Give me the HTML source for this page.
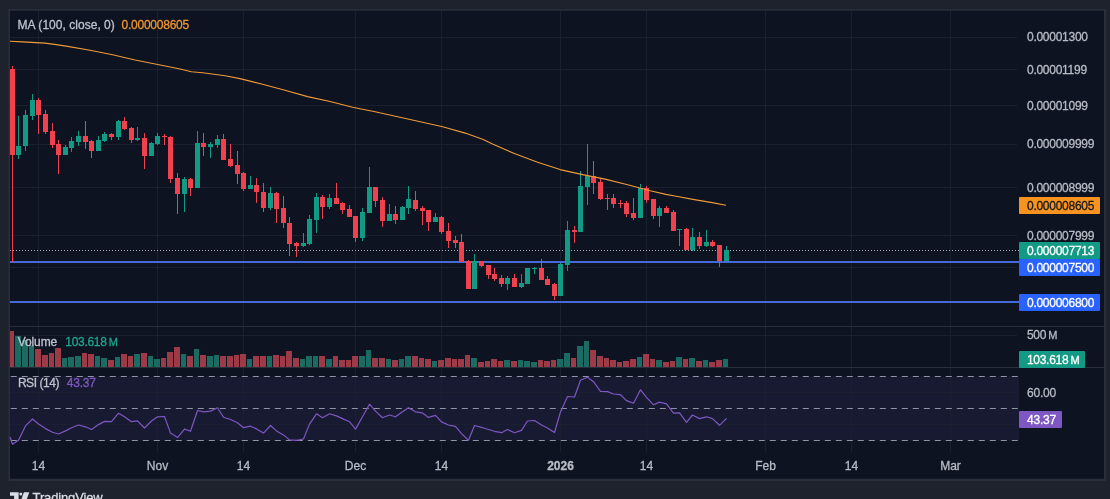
<!DOCTYPE html>
<html><head><meta charset="utf-8"><title>Chart</title>
<style>html,body{margin:0;padding:0;background:#1e222d;}body{width:1110px;height:499px;overflow:hidden;font-family:"Liberation Sans",Arial,sans-serif;}svg{display:block;will-change:transform;transform:translateZ(0)}</style>
</head><body>
<svg width="1110" height="499" viewBox="0 0 1110 499" font-family="'Liberation Sans', Arial, sans-serif" font-size="12">
<rect width="1110" height="499" fill="#1e222d"/>
<rect x="8.5" y="8.9" width="1097.8" height="472.1" fill="#2a2e39"/>
<rect x="10" y="10.7" width="1094" height="468.1" fill="#0d1321"/>
<rect x="10" y="376.5" width="1009" height="64.0" fill="#7e57c2" fill-opacity="0.10"/>
<g fill="#1a2030" shape-rendering="crispEdges">
<rect x="38" y="11" width="1" height="441"/>
<rect x="157" y="11" width="1" height="441"/>
<rect x="243" y="11" width="1" height="441"/>
<rect x="355" y="11" width="1" height="441"/>
<rect x="441" y="11" width="1" height="441"/>
<rect x="560" y="11" width="1" height="441"/>
<rect x="646" y="11" width="1" height="441"/>
<rect x="765" y="11" width="1" height="441"/>
<rect x="851" y="11" width="1" height="441"/>
<rect x="950" y="11" width="1" height="441"/>
<rect x="10" y="37" width="1007" height="1"/>
<rect x="10" y="69" width="1007" height="1"/>
<rect x="10" y="105" width="1007" height="1"/>
<rect x="10" y="144" width="1007" height="1"/>
<rect x="10" y="187" width="1007" height="1"/>
<rect x="10" y="235" width="1007" height="1"/>
<rect x="10" y="267" width="1007" height="1"/>
<rect x="10" y="335" width="1007" height="1"/>
<rect x="10" y="392" width="1007" height="1"/>
<rect x="10" y="424" width="1007" height="1"/>
</g>
<g fill="#2a2e39" shape-rendering="crispEdges">
<rect x="10" y="326" width="1094" height="1"/>
<rect x="10" y="367" width="1094" height="1"/>
</g>
<g shape-rendering="crispEdges">
<rect x="10" y="331" width="4" height="36" fill="#9c3b47"/>
<rect x="15" y="336" width="6" height="31" fill="#1b6b62"/>
<rect x="22" y="340" width="6" height="27" fill="#1b6b62"/>
<rect x="29" y="345" width="5" height="22" fill="#1b6b62"/>
<rect x="35" y="349" width="6" height="18" fill="#9c3b47"/>
<rect x="42" y="355" width="6" height="12" fill="#9c3b47"/>
<rect x="49" y="353" width="5" height="14" fill="#9c3b47"/>
<rect x="55" y="348" width="6" height="19" fill="#9c3b47"/>
<rect x="62" y="358" width="5" height="9" fill="#1b6b62"/>
<rect x="68" y="357" width="6" height="10" fill="#1b6b62"/>
<rect x="75" y="356" width="6" height="11" fill="#1b6b62"/>
<rect x="82" y="353" width="5" height="14" fill="#9c3b47"/>
<rect x="88" y="354" width="6" height="13" fill="#9c3b47"/>
<rect x="95" y="356" width="5" height="11" fill="#1b6b62"/>
<rect x="101" y="358" width="6" height="9" fill="#1b6b62"/>
<rect x="108" y="360" width="6" height="7" fill="#9c3b47"/>
<rect x="115" y="357" width="5" height="10" fill="#1b6b62"/>
<rect x="121" y="354" width="6" height="13" fill="#9c3b47"/>
<rect x="128" y="356" width="5" height="11" fill="#9c3b47"/>
<rect x="134" y="354" width="6" height="13" fill="#1b6b62"/>
<rect x="141" y="353" width="6" height="14" fill="#9c3b47"/>
<rect x="148" y="356" width="5" height="11" fill="#1b6b62"/>
<rect x="154" y="359" width="6" height="8" fill="#1b6b62"/>
<rect x="161" y="358" width="5" height="9" fill="#9c3b47"/>
<rect x="167" y="352" width="6" height="15" fill="#9c3b47"/>
<rect x="174" y="347" width="6" height="20" fill="#9c3b47"/>
<rect x="181" y="354" width="5" height="13" fill="#1b6b62"/>
<rect x="187" y="356" width="6" height="11" fill="#9c3b47"/>
<rect x="194" y="349" width="5" height="18" fill="#1b6b62"/>
<rect x="200" y="355" width="6" height="12" fill="#9c3b47"/>
<rect x="207" y="356" width="6" height="11" fill="#1b6b62"/>
<rect x="214" y="355" width="5" height="12" fill="#1b6b62"/>
<rect x="220" y="356" width="6" height="11" fill="#9c3b47"/>
<rect x="227" y="356" width="6" height="11" fill="#9c3b47"/>
<rect x="234" y="355" width="5" height="12" fill="#9c3b47"/>
<rect x="240" y="354" width="6" height="13" fill="#9c3b47"/>
<rect x="247" y="359" width="5" height="8" fill="#1b6b62"/>
<rect x="253" y="356" width="6" height="11" fill="#9c3b47"/>
<rect x="260" y="356" width="6" height="11" fill="#9c3b47"/>
<rect x="267" y="356" width="5" height="11" fill="#1b6b62"/>
<rect x="273" y="355" width="6" height="12" fill="#9c3b47"/>
<rect x="280" y="356" width="5" height="11" fill="#9c3b47"/>
<rect x="286" y="351" width="6" height="16" fill="#9c3b47"/>
<rect x="293" y="358" width="6" height="9" fill="#9c3b47"/>
<rect x="300" y="359" width="5" height="8" fill="#1b6b62"/>
<rect x="306" y="356" width="6" height="11" fill="#1b6b62"/>
<rect x="313" y="356" width="5" height="11" fill="#1b6b62"/>
<rect x="319" y="356" width="6" height="11" fill="#9c3b47"/>
<rect x="326" y="359" width="6" height="8" fill="#1b6b62"/>
<rect x="333" y="356" width="5" height="11" fill="#9c3b47"/>
<rect x="339" y="360" width="6" height="7" fill="#9c3b47"/>
<rect x="346" y="360" width="5" height="7" fill="#9c3b47"/>
<rect x="352" y="356" width="6" height="11" fill="#9c3b47"/>
<rect x="359" y="356" width="6" height="11" fill="#1b6b62"/>
<rect x="366" y="350" width="5" height="17" fill="#1b6b62"/>
<rect x="372" y="358" width="6" height="9" fill="#9c3b47"/>
<rect x="379" y="358" width="6" height="9" fill="#9c3b47"/>
<rect x="386" y="359" width="5" height="8" fill="#1b6b62"/>
<rect x="392" y="360" width="6" height="7" fill="#9c3b47"/>
<rect x="399" y="359" width="5" height="8" fill="#1b6b62"/>
<rect x="405" y="356" width="6" height="11" fill="#1b6b62"/>
<rect x="412" y="356" width="6" height="11" fill="#9c3b47"/>
<rect x="419" y="358" width="5" height="9" fill="#9c3b47"/>
<rect x="425" y="359" width="6" height="8" fill="#9c3b47"/>
<rect x="432" y="361" width="5" height="6" fill="#1b6b62"/>
<rect x="438" y="360" width="6" height="7" fill="#9c3b47"/>
<rect x="445" y="358" width="6" height="9" fill="#9c3b47"/>
<rect x="452" y="359" width="5" height="8" fill="#9c3b47"/>
<rect x="458" y="359" width="6" height="8" fill="#9c3b47"/>
<rect x="465" y="355" width="5" height="12" fill="#9c3b47"/>
<rect x="471" y="358" width="6" height="9" fill="#1b6b62"/>
<rect x="478" y="362" width="6" height="5" fill="#9c3b47"/>
<rect x="485" y="361" width="5" height="6" fill="#9c3b47"/>
<rect x="491" y="359" width="6" height="8" fill="#9c3b47"/>
<rect x="498" y="361" width="5" height="6" fill="#9c3b47"/>
<rect x="504" y="360" width="6" height="7" fill="#1b6b62"/>
<rect x="511" y="361" width="6" height="6" fill="#9c3b47"/>
<rect x="518" y="360" width="5" height="7" fill="#1b6b62"/>
<rect x="524" y="361" width="6" height="6" fill="#1b6b62"/>
<rect x="531" y="362" width="6" height="5" fill="#1b6b62"/>
<rect x="538" y="360" width="5" height="7" fill="#9c3b47"/>
<rect x="544" y="361" width="6" height="6" fill="#9c3b47"/>
<rect x="551" y="360" width="5" height="7" fill="#9c3b47"/>
<rect x="557" y="359" width="6" height="8" fill="#1b6b62"/>
<rect x="564" y="353" width="6" height="14" fill="#1b6b62"/>
<rect x="571" y="358" width="5" height="9" fill="#9c3b47"/>
<rect x="577" y="346" width="6" height="21" fill="#1b6b62"/>
<rect x="584" y="341" width="5" height="26" fill="#1b6b62"/>
<rect x="590" y="350" width="6" height="17" fill="#9c3b47"/>
<rect x="597" y="356" width="6" height="11" fill="#9c3b47"/>
<rect x="604" y="358" width="5" height="9" fill="#9c3b47"/>
<rect x="610" y="360" width="6" height="7" fill="#9c3b47"/>
<rect x="617" y="362" width="5" height="5" fill="#9c3b47"/>
<rect x="623" y="361" width="6" height="6" fill="#9c3b47"/>
<rect x="630" y="359" width="6" height="8" fill="#9c3b47"/>
<rect x="637" y="357" width="5" height="10" fill="#1b6b62"/>
<rect x="643" y="354" width="6" height="13" fill="#9c3b47"/>
<rect x="650" y="359" width="5" height="8" fill="#9c3b47"/>
<rect x="656" y="360" width="6" height="7" fill="#1b6b62"/>
<rect x="663" y="362" width="6" height="5" fill="#9c3b47"/>
<rect x="670" y="361" width="5" height="6" fill="#9c3b47"/>
<rect x="676" y="357" width="6" height="10" fill="#1b6b62"/>
<rect x="683" y="359" width="5" height="8" fill="#9c3b47"/>
<rect x="689" y="358" width="6" height="9" fill="#1b6b62"/>
<rect x="696" y="361" width="6" height="6" fill="#9c3b47"/>
<rect x="703" y="360" width="5" height="7" fill="#1b6b62"/>
<rect x="709" y="362" width="6" height="5" fill="#9c3b47"/>
<rect x="716" y="360" width="6" height="7" fill="#9c3b47"/>
<rect x="723" y="359" width="5" height="8" fill="#1b6b62"/>
</g>
<line x1="10" y1="250.5" x2="1019" y2="250.5" stroke="#9fb3ae" stroke-width="1" stroke-dasharray="1 2" shape-rendering="crispEdges"/>
<rect x="10" y="261" width="1009" height="2" fill="#456ad8"/>
<rect x="10" y="301" width="1009" height="2" fill="#456ad8"/>
<g shape-rendering="crispEdges">
<rect x="12" y="66" width="1" height="196" fill="#f0414f"/>
<rect x="10" y="69" width="5" height="86" fill="#f0414f"/>
<rect x="18" y="116" width="1" height="43" fill="#139a85"/>
<rect x="16" y="146" width="5" height="9" fill="#139a85"/>
<rect x="25" y="110" width="1" height="41" fill="#139a85"/>
<rect x="23" y="115" width="5" height="31" fill="#139a85"/>
<rect x="32" y="94" width="1" height="26" fill="#139a85"/>
<rect x="30" y="100" width="5" height="16" fill="#139a85"/>
<rect x="38" y="98" width="1" height="36" fill="#f0414f"/>
<rect x="36" y="100" width="5" height="15" fill="#f0414f"/>
<rect x="45" y="110" width="1" height="24" fill="#f0414f"/>
<rect x="43" y="114" width="5" height="18" fill="#f0414f"/>
<rect x="52" y="123" width="1" height="25" fill="#f0414f"/>
<rect x="50" y="131" width="5" height="14" fill="#f0414f"/>
<rect x="58" y="140" width="1" height="34" fill="#f0414f"/>
<rect x="56" y="144" width="5" height="11" fill="#f0414f"/>
<rect x="65" y="145" width="1" height="10" fill="#139a85"/>
<rect x="63" y="147" width="5" height="8" fill="#139a85"/>
<rect x="71" y="137" width="1" height="15" fill="#139a85"/>
<rect x="69" y="141" width="5" height="7" fill="#139a85"/>
<rect x="78" y="131" width="1" height="15" fill="#139a85"/>
<rect x="76" y="136" width="5" height="6" fill="#139a85"/>
<rect x="85" y="121" width="1" height="28" fill="#f0414f"/>
<rect x="83" y="136" width="5" height="6" fill="#f0414f"/>
<rect x="91" y="140" width="1" height="18" fill="#f0414f"/>
<rect x="89" y="141" width="5" height="10" fill="#f0414f"/>
<rect x="98" y="136" width="1" height="15" fill="#139a85"/>
<rect x="96" y="140" width="5" height="11" fill="#139a85"/>
<rect x="104" y="132" width="1" height="10" fill="#139a85"/>
<rect x="102" y="134" width="5" height="7" fill="#139a85"/>
<rect x="111" y="133" width="1" height="7" fill="#f0414f"/>
<rect x="109" y="134" width="5" height="3" fill="#f0414f"/>
<rect x="118" y="120" width="1" height="20" fill="#139a85"/>
<rect x="116" y="121" width="5" height="16" fill="#139a85"/>
<rect x="124" y="117" width="1" height="13" fill="#f0414f"/>
<rect x="122" y="121" width="5" height="8" fill="#f0414f"/>
<rect x="131" y="127" width="1" height="16" fill="#f0414f"/>
<rect x="129" y="128" width="5" height="12" fill="#f0414f"/>
<rect x="137" y="127" width="1" height="14" fill="#139a85"/>
<rect x="135" y="138" width="5" height="2" fill="#139a85"/>
<rect x="144" y="133" width="1" height="36" fill="#f0414f"/>
<rect x="142" y="138" width="5" height="18" fill="#f0414f"/>
<rect x="151" y="142" width="1" height="14" fill="#139a85"/>
<rect x="149" y="143" width="5" height="13" fill="#139a85"/>
<rect x="157" y="133" width="1" height="12" fill="#139a85"/>
<rect x="155" y="136" width="5" height="8" fill="#139a85"/>
<rect x="164" y="134" width="1" height="11" fill="#f0414f"/>
<rect x="162" y="136" width="5" height="1" fill="#f0414f"/>
<rect x="170" y="136" width="1" height="47" fill="#f0414f"/>
<rect x="168" y="137" width="5" height="42" fill="#f0414f"/>
<rect x="177" y="173" width="1" height="41" fill="#f0414f"/>
<rect x="175" y="178" width="5" height="16" fill="#f0414f"/>
<rect x="184" y="177" width="1" height="35" fill="#139a85"/>
<rect x="182" y="179" width="5" height="15" fill="#139a85"/>
<rect x="190" y="178" width="1" height="18" fill="#f0414f"/>
<rect x="188" y="179" width="5" height="9" fill="#f0414f"/>
<rect x="197" y="131" width="1" height="57" fill="#139a85"/>
<rect x="195" y="143" width="5" height="45" fill="#139a85"/>
<rect x="203" y="133" width="1" height="23" fill="#f0414f"/>
<rect x="201" y="143" width="5" height="4" fill="#f0414f"/>
<rect x="210" y="142" width="1" height="16" fill="#139a85"/>
<rect x="208" y="144" width="5" height="3" fill="#139a85"/>
<rect x="217" y="135" width="1" height="13" fill="#139a85"/>
<rect x="215" y="139" width="5" height="6" fill="#139a85"/>
<rect x="223" y="134" width="1" height="26" fill="#f0414f"/>
<rect x="221" y="139" width="5" height="21" fill="#f0414f"/>
<rect x="230" y="144" width="1" height="23" fill="#f0414f"/>
<rect x="228" y="159" width="5" height="7" fill="#f0414f"/>
<rect x="237" y="151" width="1" height="33" fill="#f0414f"/>
<rect x="235" y="165" width="5" height="9" fill="#f0414f"/>
<rect x="243" y="172" width="1" height="19" fill="#f0414f"/>
<rect x="241" y="173" width="5" height="16" fill="#f0414f"/>
<rect x="250" y="176" width="1" height="13" fill="#139a85"/>
<rect x="248" y="185" width="5" height="4" fill="#139a85"/>
<rect x="256" y="178" width="1" height="25" fill="#f0414f"/>
<rect x="254" y="185" width="5" height="7" fill="#f0414f"/>
<rect x="263" y="183" width="1" height="29" fill="#f0414f"/>
<rect x="261" y="192" width="5" height="16" fill="#f0414f"/>
<rect x="270" y="187" width="1" height="23" fill="#139a85"/>
<rect x="268" y="193" width="5" height="15" fill="#139a85"/>
<rect x="276" y="192" width="1" height="31" fill="#f0414f"/>
<rect x="274" y="193" width="5" height="16" fill="#f0414f"/>
<rect x="283" y="196" width="1" height="32" fill="#f0414f"/>
<rect x="281" y="208" width="5" height="15" fill="#f0414f"/>
<rect x="289" y="217" width="1" height="39" fill="#f0414f"/>
<rect x="287" y="223" width="5" height="21" fill="#f0414f"/>
<rect x="296" y="242" width="1" height="15" fill="#f0414f"/>
<rect x="294" y="243" width="5" height="3" fill="#f0414f"/>
<rect x="303" y="233" width="1" height="14" fill="#139a85"/>
<rect x="301" y="243" width="5" height="3" fill="#139a85"/>
<rect x="309" y="215" width="1" height="30" fill="#139a85"/>
<rect x="307" y="219" width="5" height="25" fill="#139a85"/>
<rect x="316" y="193" width="1" height="40" fill="#139a85"/>
<rect x="314" y="197" width="5" height="23" fill="#139a85"/>
<rect x="322" y="195" width="1" height="24" fill="#f0414f"/>
<rect x="320" y="197" width="5" height="10" fill="#f0414f"/>
<rect x="329" y="194" width="1" height="15" fill="#139a85"/>
<rect x="327" y="198" width="5" height="9" fill="#139a85"/>
<rect x="336" y="183" width="1" height="21" fill="#f0414f"/>
<rect x="334" y="198" width="5" height="6" fill="#f0414f"/>
<rect x="342" y="202" width="1" height="12" fill="#f0414f"/>
<rect x="340" y="203" width="5" height="7" fill="#f0414f"/>
<rect x="349" y="205" width="1" height="12" fill="#f0414f"/>
<rect x="347" y="209" width="5" height="8" fill="#f0414f"/>
<rect x="355" y="216" width="1" height="26" fill="#f0414f"/>
<rect x="353" y="216" width="5" height="22" fill="#f0414f"/>
<rect x="362" y="208" width="1" height="33" fill="#139a85"/>
<rect x="360" y="212" width="5" height="26" fill="#139a85"/>
<rect x="369" y="167" width="1" height="46" fill="#139a85"/>
<rect x="367" y="187" width="5" height="26" fill="#139a85"/>
<rect x="375" y="187" width="1" height="20" fill="#f0414f"/>
<rect x="373" y="187" width="5" height="14" fill="#f0414f"/>
<rect x="382" y="197" width="1" height="30" fill="#f0414f"/>
<rect x="380" y="200" width="5" height="21" fill="#f0414f"/>
<rect x="389" y="204" width="1" height="17" fill="#139a85"/>
<rect x="387" y="214" width="5" height="7" fill="#139a85"/>
<rect x="395" y="206" width="1" height="18" fill="#f0414f"/>
<rect x="393" y="214" width="5" height="6" fill="#f0414f"/>
<rect x="402" y="206" width="1" height="14" fill="#139a85"/>
<rect x="400" y="207" width="5" height="13" fill="#139a85"/>
<rect x="408" y="186" width="1" height="28" fill="#139a85"/>
<rect x="406" y="199" width="5" height="9" fill="#139a85"/>
<rect x="415" y="191" width="1" height="20" fill="#f0414f"/>
<rect x="413" y="200" width="5" height="9" fill="#f0414f"/>
<rect x="422" y="206" width="1" height="19" fill="#f0414f"/>
<rect x="420" y="208" width="5" height="3" fill="#f0414f"/>
<rect x="428" y="210" width="1" height="21" fill="#f0414f"/>
<rect x="426" y="210" width="5" height="12" fill="#f0414f"/>
<rect x="435" y="213" width="1" height="9" fill="#139a85"/>
<rect x="433" y="217" width="5" height="5" fill="#139a85"/>
<rect x="441" y="216" width="1" height="18" fill="#f0414f"/>
<rect x="439" y="217" width="5" height="15" fill="#f0414f"/>
<rect x="448" y="223" width="1" height="25" fill="#f0414f"/>
<rect x="446" y="231" width="5" height="10" fill="#f0414f"/>
<rect x="455" y="236" width="1" height="12" fill="#f0414f"/>
<rect x="453" y="240" width="5" height="3" fill="#f0414f"/>
<rect x="461" y="234" width="1" height="28" fill="#f0414f"/>
<rect x="459" y="242" width="5" height="20" fill="#f0414f"/>
<rect x="468" y="260" width="1" height="29" fill="#f0414f"/>
<rect x="466" y="261" width="5" height="28" fill="#f0414f"/>
<rect x="474" y="254" width="1" height="35" fill="#139a85"/>
<rect x="472" y="261" width="5" height="28" fill="#139a85"/>
<rect x="481" y="261" width="1" height="6" fill="#f0414f"/>
<rect x="479" y="261" width="5" height="5" fill="#f0414f"/>
<rect x="488" y="265" width="1" height="14" fill="#f0414f"/>
<rect x="486" y="265" width="5" height="10" fill="#f0414f"/>
<rect x="494" y="268" width="1" height="13" fill="#f0414f"/>
<rect x="492" y="274" width="5" height="5" fill="#f0414f"/>
<rect x="501" y="275" width="1" height="12" fill="#f0414f"/>
<rect x="499" y="278" width="5" height="6" fill="#f0414f"/>
<rect x="507" y="276" width="1" height="14" fill="#139a85"/>
<rect x="505" y="278" width="5" height="6" fill="#139a85"/>
<rect x="514" y="274" width="1" height="13" fill="#f0414f"/>
<rect x="512" y="278" width="5" height="9" fill="#f0414f"/>
<rect x="521" y="274" width="1" height="14" fill="#139a85"/>
<rect x="519" y="283" width="5" height="4" fill="#139a85"/>
<rect x="527" y="268" width="1" height="16" fill="#139a85"/>
<rect x="525" y="268" width="5" height="16" fill="#139a85"/>
<rect x="534" y="267" width="1" height="7" fill="#139a85"/>
<rect x="532" y="268" width="5" height="1" fill="#139a85"/>
<rect x="541" y="259" width="1" height="21" fill="#f0414f"/>
<rect x="539" y="268" width="5" height="12" fill="#f0414f"/>
<rect x="547" y="276" width="1" height="9" fill="#f0414f"/>
<rect x="545" y="279" width="5" height="6" fill="#f0414f"/>
<rect x="554" y="283" width="1" height="17" fill="#f0414f"/>
<rect x="552" y="284" width="5" height="12" fill="#f0414f"/>
<rect x="560" y="263" width="1" height="33" fill="#139a85"/>
<rect x="558" y="264" width="5" height="32" fill="#139a85"/>
<rect x="567" y="221" width="1" height="50" fill="#139a85"/>
<rect x="565" y="230" width="5" height="35" fill="#139a85"/>
<rect x="574" y="226" width="1" height="17" fill="#f0414f"/>
<rect x="572" y="230" width="5" height="2" fill="#f0414f"/>
<rect x="580" y="171" width="1" height="61" fill="#139a85"/>
<rect x="578" y="186" width="5" height="46" fill="#139a85"/>
<rect x="587" y="144" width="1" height="61" fill="#139a85"/>
<rect x="585" y="176" width="5" height="11" fill="#139a85"/>
<rect x="593" y="161" width="1" height="33" fill="#f0414f"/>
<rect x="591" y="176" width="5" height="7" fill="#f0414f"/>
<rect x="600" y="178" width="1" height="22" fill="#f0414f"/>
<rect x="598" y="182" width="5" height="17" fill="#f0414f"/>
<rect x="607" y="194" width="1" height="16" fill="#f0414f"/>
<rect x="605" y="198" width="5" height="1" fill="#f0414f"/>
<rect x="613" y="194" width="1" height="14" fill="#f0414f"/>
<rect x="611" y="198" width="5" height="6" fill="#f0414f"/>
<rect x="620" y="200" width="1" height="8" fill="#f0414f"/>
<rect x="618" y="203" width="5" height="1" fill="#f0414f"/>
<rect x="626" y="201" width="1" height="16" fill="#f0414f"/>
<rect x="624" y="203" width="5" height="11" fill="#f0414f"/>
<rect x="633" y="198" width="1" height="22" fill="#f0414f"/>
<rect x="631" y="213" width="5" height="5" fill="#f0414f"/>
<rect x="640" y="184" width="1" height="34" fill="#139a85"/>
<rect x="638" y="188" width="5" height="30" fill="#139a85"/>
<rect x="646" y="186" width="1" height="17" fill="#f0414f"/>
<rect x="644" y="188" width="5" height="12" fill="#f0414f"/>
<rect x="653" y="199" width="1" height="20" fill="#f0414f"/>
<rect x="651" y="199" width="5" height="17" fill="#f0414f"/>
<rect x="659" y="206" width="1" height="21" fill="#139a85"/>
<rect x="657" y="208" width="5" height="8" fill="#139a85"/>
<rect x="666" y="206" width="1" height="7" fill="#f0414f"/>
<rect x="664" y="208" width="5" height="5" fill="#f0414f"/>
<rect x="673" y="210" width="1" height="21" fill="#f0414f"/>
<rect x="671" y="212" width="5" height="19" fill="#f0414f"/>
<rect x="679" y="229" width="1" height="17" fill="#139a85"/>
<rect x="677" y="229" width="5" height="1" fill="#139a85"/>
<rect x="686" y="228" width="1" height="22" fill="#f0414f"/>
<rect x="684" y="229" width="5" height="21" fill="#f0414f"/>
<rect x="692" y="228" width="1" height="23" fill="#139a85"/>
<rect x="690" y="237" width="5" height="13" fill="#139a85"/>
<rect x="699" y="232" width="1" height="17" fill="#f0414f"/>
<rect x="697" y="237" width="5" height="9" fill="#f0414f"/>
<rect x="706" y="230" width="1" height="17" fill="#139a85"/>
<rect x="704" y="242" width="5" height="4" fill="#139a85"/>
<rect x="712" y="240" width="1" height="7" fill="#f0414f"/>
<rect x="710" y="242" width="5" height="4" fill="#f0414f"/>
<rect x="719" y="245" width="1" height="22" fill="#f0414f"/>
<rect x="717" y="245" width="5" height="16" fill="#f0414f"/>
<rect x="726" y="246" width="1" height="15" fill="#139a85"/>
<rect x="724" y="250" width="5" height="11" fill="#139a85"/>
</g>
<polyline points="10.0,41.3 22.5,41.9 45.0,43.1 56.3,44.6 67.6,46.4 90.1,50.3 112.6,54.8 135.1,60.0 157.7,64.5 180.2,69.0 191.4,71.7 202.7,72.8 225.2,75.7 240.0,78.6 262.5,84.2 285.0,90.3 307.6,96.6 330.1,101.5 352.6,107.2 375.1,111.7 397.7,116.8 420.2,121.8 442.7,126.8 465.2,133.1 483.2,139.4 492.5,144.1 515.0,153.8 537.6,162.2 560.1,169.6 582.6,174.6 605.1,179.1 627.7,184.7 650.2,190.8 666.0,194.4 676.2,196.3 694.3,199.6 712.3,202.6 726.0,205.3" fill="none" stroke="#f09a38" stroke-width="1.1" stroke-linejoin="round"/>
<line x1="10.8" y1="376.5" x2="1019" y2="376.5" stroke="#8f93a3" stroke-width="1" stroke-dasharray="6 5"/>
<line x1="10.8" y1="408.5" x2="1019" y2="408.5" stroke="#8f93a3" stroke-width="1" stroke-dasharray="6 5"/>
<line x1="10.8" y1="440.5" x2="1019" y2="440.5" stroke="#8f93a3" stroke-width="1" stroke-dasharray="6 5"/>
<polyline points="10,437 12.5,444.2 18.5,440.3 25.5,425.9 32.5,419.0 38.5,424.0 45.5,428.6 52.5,432.2 58.5,434.0 65.5,430.9 71.5,427.7 78.5,425.0 85.5,426.8 91.5,429.5 98.5,424.6 104.5,421.4 111.5,421.7 118.5,413.2 124.5,416.8 131.5,421.7 137.5,420.8 144.5,428.0 151.5,421.0 157.5,416.8 164.5,416.5 170.5,433.1 177.5,437.6 184.5,429.1 190.5,431.3 197.5,410.5 203.5,411.8 210.5,411.1 217.5,407.8 223.5,417.2 230.5,419.5 237.5,422.8 243.5,427.7 250.5,426.2 256.5,428.9 263.5,433.1 270.5,425.5 276.5,430.9 283.5,434.9 289.5,439.9 296.5,440.3 303.5,439.0 309.5,424.1 316.5,413.8 322.5,417.7 329.5,413.8 336.5,415.9 342.5,418.6 349.5,421.7 355.5,429.1 362.5,416.8 369.5,404.2 375.5,411.1 382.5,417.7 389.5,415.0 395.5,416.8 402.5,411.8 408.5,407.8 415.5,411.8 422.5,412.9 428.5,417.4 435.5,415.4 441.5,421.9 448.5,425.0 455.5,426.4 461.5,433.6 468.5,440.3 474.5,425.5 481.5,427.3 488.5,429.5 494.5,431.3 501.5,432.7 507.5,429.5 514.5,432.7 521.5,430.4 527.5,421.0 534.5,420.5 541.5,425.0 547.5,428.0 554.5,432.5 560.5,411.9 567.5,396.5 574.5,397.0 580.5,380.3 587.5,377.2 593.5,381.7 600.5,391.3 607.5,391.6 613.5,394.0 620.5,394.7 626.5,400.6 633.5,403.3 640.5,389.8 646.5,397.4 653.5,404.8 659.5,402.1 666.5,403.9 673.5,413.2 679.5,412.9 686.5,422.3 692.5,415.0 699.5,418.6 706.5,416.8 712.5,418.6 719.5,425.3 726.5,418.3" fill="none" stroke="#7e57c2" stroke-width="1.2" stroke-linejoin="round"/>
<text x="17.6" y="29.1" fill="#bfc2cc" letter-spacing="0.03" stroke="#bfc2cc" stroke-width="0.3">MA (100, close, 0)</text>
<text x="121.6" y="29.1" fill="#ee962f" letter-spacing="-0.25" stroke="#ee962f" stroke-width="0.3">0.000008605</text>
<text x="17.7" y="345.7" fill="#bfc2cc" letter-spacing="-0.1" stroke="#bfc2cc" stroke-width="0.3">Volume</text>
<text x="65.3" y="345.7" fill="#1fa58f" letter-spacing="-0.3" stroke="#1fa58f" stroke-width="0.3">103.618<tspan dx="2.2" letter-spacing="0" font-size="11">M</tspan></text>
<text x="17.9" y="386.8" fill="#bfc2cc" letter-spacing="-0.45" stroke="#bfc2cc" stroke-width="0.3">RSI (14)</text>
<text x="66.7" y="386.8" fill="#7e57c2" letter-spacing="-0.2" stroke="#7e57c2" stroke-width="0.3">43.37</text>
<text x="38.5" y="470.3" fill="#b8bbc4" text-anchor="middle" stroke="#b8bbc4" stroke-width="0.3">14</text>
<text x="157.5" y="470.3" fill="#b8bbc4" text-anchor="middle" stroke="#b8bbc4" stroke-width="0.3">Nov</text>
<text x="243.5" y="470.3" fill="#b8bbc4" text-anchor="middle" stroke="#b8bbc4" stroke-width="0.3">14</text>
<text x="355.5" y="470.3" fill="#b8bbc4" text-anchor="middle" stroke="#b8bbc4" stroke-width="0.3">Dec</text>
<text x="441.5" y="470.3" fill="#b8bbc4" text-anchor="middle" stroke="#b8bbc4" stroke-width="0.3">14</text>
<text x="560.5" y="470.3" fill="#b8bbc4" text-anchor="middle" font-weight="bold" stroke="#b8bbc4" stroke-width="0.3">2026</text>
<text x="646.5" y="470.3" fill="#b8bbc4" text-anchor="middle" stroke="#b8bbc4" stroke-width="0.3">14</text>
<text x="765.5" y="470.3" fill="#b8bbc4" text-anchor="middle" stroke="#b8bbc4" stroke-width="0.3">Feb</text>
<text x="851.5" y="470.3" fill="#b8bbc4" text-anchor="middle" stroke="#b8bbc4" stroke-width="0.3">14</text>
<text x="950.5" y="470.3" fill="#b8bbc4" text-anchor="middle" stroke="#b8bbc4" stroke-width="0.3">Mar</text>
<text x="1027.0" y="41.1" fill="#b8bbc4" letter-spacing="-0.27" stroke="#b8bbc4" stroke-width="0.3">0.00001300</text>
<text x="1027.0" y="73.8" fill="#b8bbc4" letter-spacing="-0.27" stroke="#b8bbc4" stroke-width="0.3">0.00001199</text>
<text x="1027.0" y="109.6" fill="#b8bbc4" letter-spacing="-0.27" stroke="#b8bbc4" stroke-width="0.3">0.00001099</text>
<text x="1027.0" y="147.9" fill="#b8bbc4" letter-spacing="-0.27" stroke="#b8bbc4" stroke-width="0.3">0.000009999</text>
<text x="1027.0" y="191.8" fill="#b8bbc4" letter-spacing="-0.27" stroke="#b8bbc4" stroke-width="0.3">0.000008999</text>
<text x="1027.0" y="239.5" fill="#b8bbc4" letter-spacing="-0.27" stroke="#b8bbc4" stroke-width="0.3">0.000007999</text>
<text x="1027.0" y="338.7" fill="#b8bbc4" letter-spacing="-0.3" stroke="#b8bbc4" stroke-width="0.3">500<tspan dx="2.2" letter-spacing="0" font-size="11">M</tspan></text>
<text x="1027.0" y="396.9" fill="#b8bbc4" letter-spacing="-0.2" stroke="#b8bbc4" stroke-width="0.3">60.00</text>
<rect x="1019" y="197" width="81" height="17" fill="#f7931e" rx="1"/>
<text x="1027.0" y="209.8" fill="#141823" letter-spacing="-0.27" stroke="#141823" stroke-width="0.3">0.000008605</text>
<rect x="1019" y="242" width="81" height="17" fill="#139a85" rx="1"/>
<text x="1027.0" y="254.8" fill="#ffffff" letter-spacing="-0.27" stroke="#ffffff" stroke-width="0.3">0.000007713</text>
<rect x="1019" y="259" width="81" height="17" fill="#2962ff" rx="1"/>
<text x="1027.0" y="271.8" fill="#ffffff" letter-spacing="-0.27" stroke="#ffffff" stroke-width="0.3">0.000007500</text>
<rect x="1019" y="294" width="81" height="17" fill="#2962ff" rx="1"/>
<text x="1027.0" y="306.8" fill="#ffffff" letter-spacing="-0.27" stroke="#ffffff" stroke-width="0.3">0.000006800</text>
<rect x="1019" y="351" width="66" height="17" fill="#139a85" rx="1"/>
<text x="1027.0" y="363.8" fill="#ffffff" letter-spacing="-0.3" stroke="#ffffff" stroke-width="0.3">103.618<tspan dx="2.2" letter-spacing="0" font-size="11">M</tspan></text>
<rect x="1019" y="411" width="43" height="17" fill="#7e57c2" rx="1"/>
<text x="1027.0" y="423.8" fill="#ffffff" letter-spacing="-0.2" stroke="#ffffff" stroke-width="0.3">43.37</text>
<g fill="#d9dce4">
<path d="M10 492.2h8.6v8h-4.5v-4.5h-4.1z"/>
<circle cx="20.8" cy="494.1" r="1.5"/>
<path d="M23.9 492.2h5.4l-2.9 8h-5.4z"/>
</g>
<text x="32.6" y="502.1" fill="#d9dce4" font-size="13" letter-spacing="-0.14" stroke="#d9dce4" stroke-width="0.3">TradingView</text>
</svg>
</body></html>
